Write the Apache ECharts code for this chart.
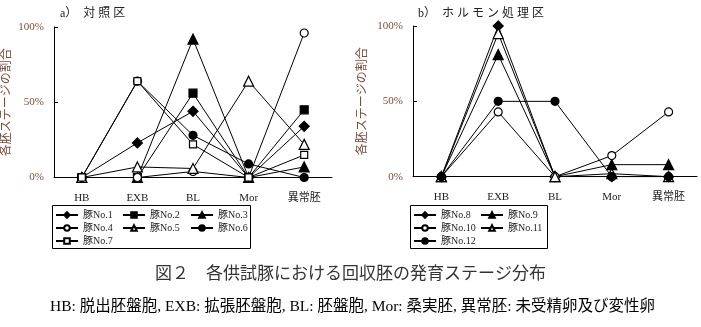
<!DOCTYPE html>
<html>
<head>
<meta charset="utf-8">
<script src="https://cdn.jsdelivr.net/npm/echarts@6/dist/echarts.min.js"></script>
<style>
html,body{margin:0;padding:0;background:#fff;}
#c{width:701px;height:327px;}
</style>
</head>
<body>
<div id="c"></div>
<script>
// ---- data ----
const categories = ['HB', 'EXB', 'BL', 'Mor', '異常胚'];
const yTicks = [0, 50, 100];

// a) 対照区
const pig1 = [0, 23, 44, 0, 34];
const pig2 = [0, 0, 56, 0, 45];
const pig3 = [0, 0, 92, 0, 7];
const pig4 = [0, 0, 4, 0, 96];
const pig5 = [0, 7, 6, 64, 22];
const pig6 = [0, 64, 28, 9, 0];
const pig7 = [0, 64, 22, 0, 15];

// b) ホルモン処理区
const pig8 = [0, 100, 0, 0, 0];
const pig9 = [0, 81, 0, 8, 8];
const pig10 = [0, 43, 0, 14, 43];
const pig11 = [0, 95, 0, 2, 0];
const pig12 = [0, 50, 50, 0, 0];

const names = ['豚No.1','豚No.2','豚No.3','豚No.4','豚No.5','豚No.6','豚No.7',
               '豚No.8','豚No.9','豚No.10','豚No.11','豚No.12'];

const titleA = 'a）  対 照 区';
const titleB = 'b）  ホ ル モ ン 処 理 区';
const yName = '各胚ステージの割合';
const caption = '図２　各供試豚における回収胚の発育ステージ分布';
const footnote = 'HB: 脱出胚盤胞, EXB: 拡張胚盤胞, BL: 胚盤胞, Mor: 桑実胚, 異常胚: 未受精卵及び変性卵';

// ---- styles ----
const serif = "'Liberation Serif', 'Noto Sans CJK JP'";
const labelBrown = '#7d4b3a';
const FILLED = '#000';
const OPEN = '#fff';

function mkSeries(name, data, idx, symbol, fill, size) {
  return {
    type: 'line', name: name, data: data,
    xAxisIndex: idx, yAxisIndex: idx,
    symbol: symbol, symbolSize: size,
    showAllSymbol: true,
    lineStyle: { color: '#000', width: 1 },
    itemStyle: { color: fill, borderColor: '#000', borderWidth: 1.2 },
    emphasis: { disabled: true },
    animation: false
  };
}

function xAxis(idx) {
  return {
    type: 'category', gridIndex: idx, data: categories,
    boundaryGap: true,
    axisLine: { lineStyle: { color: '#000', width: 1 } },
    axisTick: { inside: true, length: 4, lineStyle: { color: '#000' } },
    axisLabel: { color: '#222', fontFamily: serif, fontSize: 11, margin: 15 },
    splitLine: { show: false }
  };
}
function yAxis(idx, gap) {
  return {
    type: 'value', gridIndex: idx, min: 0, max: 100, interval: 50,
    name: yName, nameLocation: 'middle', nameRotate: 90, nameGap: gap,
    nameTextStyle: { color: labelBrown, fontFamily: serif, fontSize: 12 },
    axisLine: { show: true, lineStyle: { color: '#000', width: 1 } },
    axisTick: { show: true, inside: true, length: 4, lineStyle: { color: '#000' } },
    axisLabel: { color: labelBrown, fontFamily: serif, fontSize: 11, margin: 10,
                 formatter: v => yTicks.includes(v) ? v + '%' : '' },
    splitLine: { show: false }
  };
}

const legendText = { fontFamily: serif, fontSize: 10, color: '#222', lineHeight: 12 };
function legend(data, left, top) {
  return {
    data: data, orient: 'vertical', left: left, top: top,
    itemWidth: 22, itemHeight: 7, itemGap: 1, padding: 0,
    textStyle: legendText, selectedMode: false
  };
}

const option = {
  backgroundColor: '#fff',
  animation: false,
  grid: [
    { left: 50, top: 27, width: 282, height: 150.5 },
    { left: 413, top: 26, width: 284, height: 150.7 }
  ],
  xAxis: [xAxis(0), xAxis(1)],
  yAxis: [yAxis(0, 41), yAxis(1, 44)],
  legend: [
    legend([names[0], names[3], names[6]], 55, 209),
    legend([names[1], names[4]], 122, 209),
    legend([names[2], names[5]], 190, 209),
    legend([names[7], names[9], names[11]], 413, 209),
    legend([names[8], names[10]], 480, 209)
  ],
  title: [
    { text: titleA, left: 55, top: 3, textStyle: { fontFamily: serif, fontSize: 12, fontWeight: 'normal', color: '#222' } },
    { text: titleB, left: 413, top: 3, textStyle: { fontFamily: serif, fontSize: 12, fontWeight: 'normal', color: '#222' } },
    { text: caption, left: 'center', top: 261, textStyle: { fontFamily: serif, fontSize: 17, fontWeight: 'normal', color: '#333' } },
    { text: footnote, left: 45, top: 294, textStyle: { fontFamily: serif, fontSize: 15.5, fontWeight: 'normal', color: '#000' } }
  ],
  graphic: [
    { type: 'rect', shape: { x: 52.5, y: 205.5, width: 198, height: 43 }, style: { fill: 'none', stroke: '#000', lineWidth: 1 }, silent: true },
    { type: 'rect', shape: { x: 410.5, y: 205.5, width: 137, height: 43 }, style: { fill: 'none', stroke: '#000', lineWidth: 1 }, silent: true }
  ],
  series: [
    mkSeries(names[0], pig1, 0, 'diamond', FILLED, 10),
    mkSeries(names[1], pig2, 0, 'rect', FILLED, 8),
    mkSeries(names[2], pig3, 0, 'triangle', FILLED, 10),
    mkSeries(names[3], pig4, 0, 'circle', OPEN, 8),
    mkSeries(names[4], pig5, 0, 'triangle', OPEN, 10),
    mkSeries(names[5], pig6, 0, 'circle', FILLED, 8),
    mkSeries(names[6], pig7, 0, 'rect', OPEN, 7),
    mkSeries(names[7], pig8, 1, 'diamond', FILLED, 10),
    mkSeries(names[8], pig9, 1, 'triangle', FILLED, 10),
    mkSeries(names[9], pig10, 1, 'circle', OPEN, 8),
    mkSeries(names[10], pig11, 1, 'triangle', OPEN, 10),
    mkSeries(names[11], pig12, 1, 'circle', FILLED, 8)
  ]
};

const chart = echarts.init(document.getElementById('c'), null, { renderer: 'canvas' });
chart.setOption(option);
</script>
</body>
</html>
